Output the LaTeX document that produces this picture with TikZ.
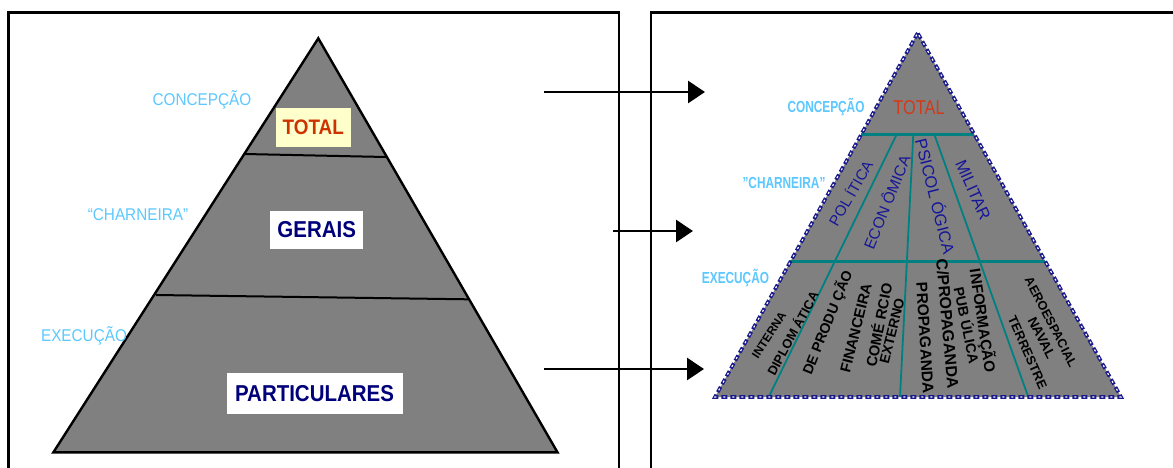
\documentclass[tikz,border=0pt]{standalone}
\usepackage{fontspec}
\setmainfont{Liberation Sans}
\usetikzlibrary{arrows.meta}
\definecolor{lblue}{HTML}{5CC8FF}
\definecolor{pgray}{HTML}{808080}
\definecolor{tealc}{HTML}{008080}
\definecolor{navyc}{HTML}{16169A}
\definecolor{borderc}{HTML}{1A1A8C}
\definecolor{tred}{HTML}{CC3300}
\definecolor{rred}{HTML}{D23A1A}
\definecolor{tyellow}{HTML}{FFFFCC}
\definecolor{tnavy}{HTML}{00007A}
\newcommand{\fs}[1]{\fontsize{#1}{#1}\selectfont}
\begin{document}
\begin{tikzpicture}[x=1pt,y=-1pt,
  lab/.style={text=lblue, inner sep=0pt, font=\fs{17}},
  rlab/.style={text=lblue, inner sep=0pt, font=\bfseries\fs{16}},
  tbox/.style={inner sep=0pt, draw=none},
  up/.style={text=navyc, inner sep=0pt},
  low/.style={text=black, inner sep=0pt},
  arr/.style={line width=2.8pt, -{Triangle[length=17pt,width=22pt]}},
  frame/.style={line width=2.6pt, draw=black},
  tline/.style={draw=tealc, line width=2.6pt},
  dline/.style={draw=tealc, line width=1.8pt}
]
\useasboundingbox (0,0) rectangle (1173,467);
\clip (0,0) rectangle (1173,467);
\fill[white] (0,0) rectangle (1173,467);

% frames
\draw[frame] (8.7,12.7) rectangle (619,490);
\draw[frame] (651,12.7) rectangle (1200,490);

% ---------------- left pyramid ----------------
\coordinate (LA) at (318.3,38.3);
\coordinate (LB) at (53.4,452.3);
\coordinate (LC) at (557.5,452.3);
\fill[pgray] (LA) -- (LB) -- (LC) -- cycle;
\coordinate (L1a) at (245,154);
\coordinate (L1b) at (386,157);
\coordinate (L2a) at (156,295);
\coordinate (L2b) at (468,299.3);
\draw[line width=2pt] (L1a) -- (L1b);
\draw[line width=2pt] (L2a) -- (L2b);
\draw[line width=2.4pt, line join=miter] (LA) -- (LB) -- (LC) -- cycle;

\node[tbox, fill=tyellow, minimum width=74.7pt, minimum height=38.4pt] (ltotal) at (313.3,127.5)
  {\scalebox{0.9}[1]{\textcolor{tred}{\bfseries\fs{21}TOTAL}}};
\node[tbox, fill=white, minimum width=92.5pt, minimum height=38.6pt] (lgerais) at (316.7,230)
  {\scalebox{0.89}[1]{\textcolor{tnavy}{\bfseries\fs{23}GERAIS}}};
\node[tbox, fill=white, minimum width=176pt, minimum height=40.7pt] (lpart) at (314.5,393.7)
  {\scalebox{0.89}[1]{\textcolor{tnavy}{\bfseries\fs{23}PARTICULARES}}};

\node[lab] (lconc) at (202,100) {\scalebox{0.9}[1]{CONCEPÇÃO}};
\node[lab] (lcharn) at (138,215) {\scalebox{0.9}[1]{“CHARNEIRA”}};
\node[lab] (lexec) at (84,336) {\scalebox{0.9}[1]{EXECUÇÃO}};

% ---------------- arrows ----------------
\coordinate (a1s) at (544,92);   \coordinate (a1e) at (705,92);
\coordinate (a2s) at (613,231);  \coordinate (a2e) at (693,231);
\coordinate (a3s) at (544,369);  \coordinate (a3e) at (704,369);
\draw[arr] (a1s) -- (a1e);
\draw[arr] (a2s) -- (a2e);
\draw[arr] (a3s) -- (a3e);

% ---------------- right pyramid ----------------
\coordinate (RA) at (917.7,33);
\coordinate (RB) at (715,397);
\coordinate (RC) at (1121,397);
\fill[pgray] (RA) -- (RB) -- (RC) -- cycle;
\coordinate (R1a) at (861.3,134.3);
\coordinate (R1b) at (974,134.3);
\coordinate (R2a) at (790.3,261.7);
\coordinate (R2b) at (1045.4,261.7);
\coordinate (D1t) at (896.7,134.3); \coordinate (D1b) at (768.7,397);
\coordinate (D2t) at (913.3,134.3); \coordinate (D2b) at (900,397);
\coordinate (D3t) at (934.3,134.3); \coordinate (D3b) at (1028.3,397);
\draw[dline] (D1t) -- (D1b);
\draw[dline] (D2t) -- (D2b);
\draw[dline] (D3t) -- (D3b);
\draw[tline] (R1a) -- (R1b);
\draw[tline] (R2a) -- (R2b);
% dashed border
\draw[draw=borderc, line width=3.6pt, dash pattern=on 6pt off 3pt] (RA) -- (RB) -- (RC) -- cycle;
\draw[draw=white, line width=1.2pt, dash pattern=on 2pt off 7pt, dash phase=-2pt] (RA) -- (RB) -- (RC) -- cycle;

\node[inner sep=0pt, text=rred] (rtotal) at (919,108) {\scalebox{0.82}[1]{\fs{20}TOTAL}};
\node[rlab] (rconc) at (826,107) {\scalebox{0.74}[1]{CONCEPÇÃO}};
\node[rlab] (rcharn) at (784,183) {\scalebox{0.74}[1]{"CHARNEIRA"}};
\node[rlab] (rexec) at (735.5,278) {\scalebox{0.74}[1]{EXECUÇÃO}};

% upper section texts
\node[up, rotate=60,   font=\fs{15}]   (pol) at (850,193) {POL ÍTICA};
\node[up, rotate=68,   font=\fs{15.5}] (eco) at (886,202) {ECON ÔMICA};
\node[up, rotate=-76,  font=\fs{16.5}] (psi) at (936,196) {PSICOL ÓGICA};
\node[up, rotate=-66,  font=\fs{16.5}] (mil) at (973,190) {MILITAR};

% lower section texts
\node[low, rotate=57,   font=\bfseries\fs{11.8}] (int) at (769,335) {INTERNA};
\node[low, rotate=61.6, font=\bfseries\fs{12.9}] (dip) at (792,333) {DIPLOM ÁTICA};
\node[low, rotate=68,   font=\bfseries\fs{14.2}] (dep) at (827.5,322.5) {DE PRODU ÇÃO};
\node[low, rotate=76,   font=\bfseries\fs{14.8}] (fin) at (856,328) {FINANCEIRA};
\node[low, rotate=79,   font=\bfseries\fs{14.7}] (com) at (878,325) {COMÉ RCIO};
\node[low, rotate=76,   font=\bfseries\fs{13.9}] (ext) at (892,331) {EXTERNO};
\node[low, rotate=-86.6,font=\bfseries\fs{15.6}] (pro) at (925,338) {PROPAGANDA};
\node[low, rotate=-85,  font=\bfseries\fs{16}]   (cpr) at (947.5,324) {C/PROPAGANDA};
\node[low, rotate=-81.6,font=\bfseries\fs{15.2}] (inf) at (982.5,321) {INFORMAÇÃO};
\node[low, rotate=-78.4,font=\bfseries\fs{14.2}] (pub) at (967.5,325) {PUB ÚLICA};
\node[low, rotate=-62.6,font=\bfseries\fs{12.6}] (aer) at (1051,322) {AEROESPACIAL};
\node[low, rotate=-63.4,font=\bfseries\fs{13.6}] (nav) at (1041.7,338) {NAVAL};
\node[low, rotate=-66,  font=\bfseries\fs{12.9}] (ter) at (1027.5,352.5) {TERRESTRE};
\end{tikzpicture}
\end{document}
